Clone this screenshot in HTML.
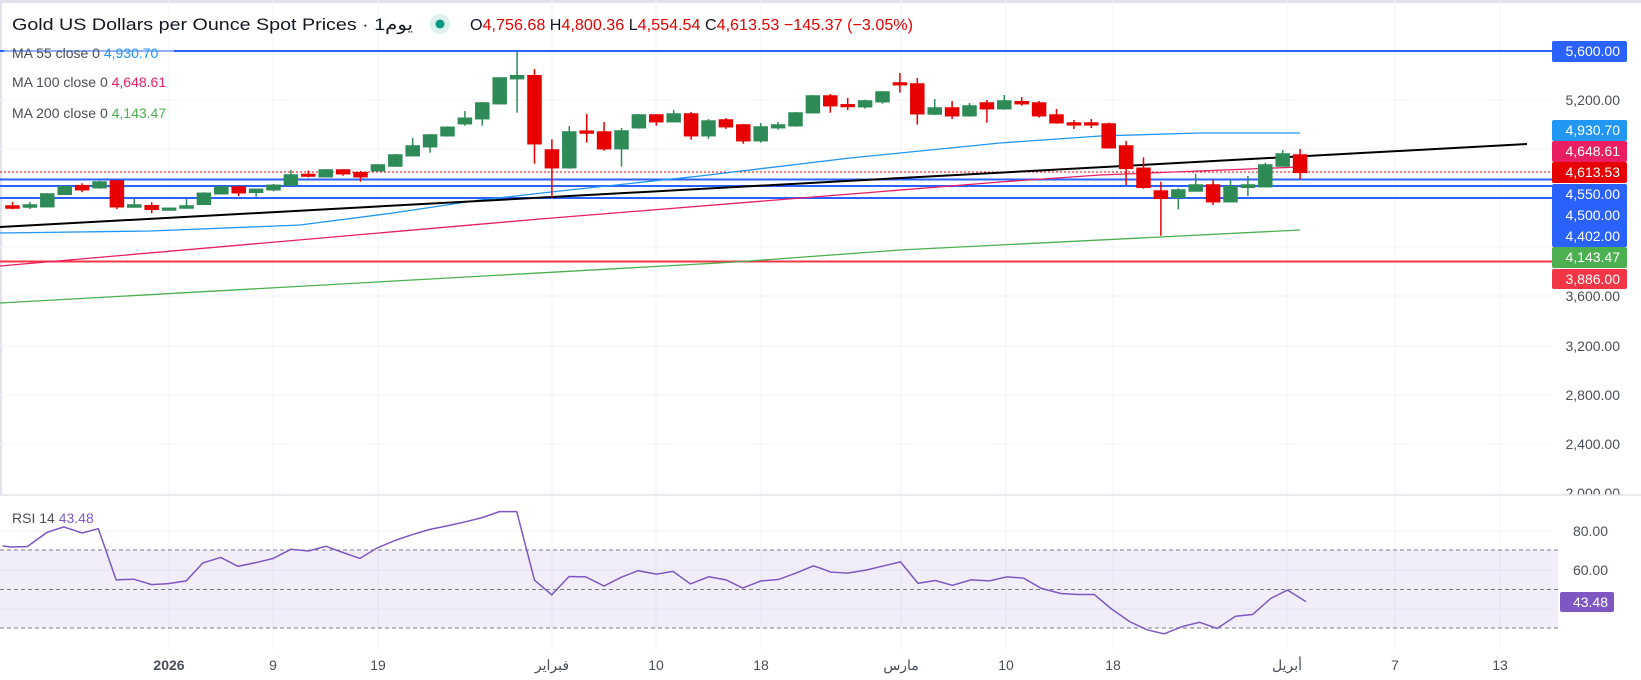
<!DOCTYPE html>
<html><head><meta charset="utf-8"><style>
html,body{margin:0;padding:0;background:#fff;}
svg{display:block;font-family:"Liberation Sans","Noto Sans CJK SC",sans-serif;}
.g{fill:#2e8b57;stroke:#2e8b57}
.r{fill:#e60000;stroke:#e60000}
.ax{font-size:14px;fill:#4a4e59;text-anchor:end}
.bx{font-size:14px;fill:#fff;text-anchor:end}
.dt{font-size:14px;fill:#4a4e59;text-anchor:middle}
</style></head><body>
<svg width="1641" height="680" viewBox="0 0 1641 680" xmlns="http://www.w3.org/2000/svg">
<rect width="1641" height="680" fill="#fff"/>
<rect x="0" y="0" width="1641" height="3" fill="#e0e3eb"/>
<rect x="0" y="0" width="2" height="680" fill="#e0e3eb"/>
<!-- grid -->
<g stroke="#f0f3fa" stroke-width="1">
<line x1="0" y1="100" x2="1552" y2="100"/><line x1="0" y1="149" x2="1552" y2="149"/>
<line x1="0" y1="198" x2="1552" y2="198"/><line x1="0" y1="247" x2="1552" y2="247"/>
<line x1="0" y1="296" x2="1552" y2="296"/><line x1="0" y1="346" x2="1552" y2="346"/>
<line x1="0" y1="395" x2="1552" y2="395"/><line x1="0" y1="444" x2="1552" y2="444"/>
<line x1="169" y1="0" x2="169" y2="650"/><line x1="273" y1="0" x2="273" y2="650"/><line x1="378" y1="0" x2="378" y2="650"/>
<line x1="552" y1="0" x2="552" y2="650"/><line x1="656" y1="0" x2="656" y2="650"/><line x1="761" y1="0" x2="761" y2="650"/>
<line x1="901" y1="0" x2="901" y2="650"/><line x1="1006" y1="0" x2="1006" y2="650"/><line x1="1113" y1="0" x2="1113" y2="650"/>
<line x1="1287" y1="0" x2="1287" y2="650"/><line x1="1395" y1="0" x2="1395" y2="650"/><line x1="1500" y1="0" x2="1500" y2="650"/>
</g>
<!-- horizontal levels -->
<line x1="0" y1="51" x2="1552" y2="51" stroke="#2962ff" stroke-width="2"/>
<line x1="0" y1="179.5" x2="1552" y2="179.5" stroke="#2962ff" stroke-width="2"/>
<line x1="0" y1="186" x2="1552" y2="186" stroke="#2962ff" stroke-width="2"/>
<line x1="0" y1="198" x2="1552" y2="198" stroke="#2962ff" stroke-width="2"/>
<line x1="0" y1="261.5" x2="1552" y2="261.5" stroke="#f23645" stroke-width="2"/>
<line x1="0" y1="172" x2="1552" y2="172" stroke="#e60000" stroke-width="1" stroke-dasharray="2,2"/>
<!-- MAs -->
<polyline fill="none" stroke="#2196f3" stroke-width="1.3" points="0,233 150,231 300,225 393,213 480,200 560,191 700,176 850,158 1000,143 1100,136 1200,133 1300,133"/>
<polyline fill="none" stroke="#e91e63" stroke-width="1.3" points="0,266 540,219 1000,182 1100,175 1300,167"/>
<polyline fill="none" stroke="#4caf50" stroke-width="1.3" points="0,303 736,262 900,250 1300,230"/>
<line x1="0" y1="227" x2="1527" y2="144" stroke="#000" stroke-width="2"/>
<!-- candles -->
<g stroke-width="1.5">
<line class="r" x1="12.5" x2="12.5" y1="202" y2="209.3"/><rect class="r" x="6" y="206" width="13" height="2"/>
<line class="g" x1="29.9" x2="29.9" y1="202" y2="209"/><rect class="g" x="23.4" y="205" width="13" height="2"/>
<line class="g" x1="47.3" x2="47.3" y1="193" y2="207"/><rect class="g" x="40.8" y="194" width="13" height="12.7"/>
<line class="g" x1="64.7" x2="64.7" y1="185.7" y2="195"/><rect class="g" x="58.2" y="186.7" width="13" height="7.6"/>
<line class="r" x1="82.1" x2="82.1" y1="183.3" y2="192.3"/><rect class="r" x="75.6" y="185.7" width="13" height="4"/>
<line class="g" x1="99.5" x2="99.5" y1="180.7" y2="188.7"/><rect class="g" x="93" y="182" width="13" height="5.7"/>
<line class="r" x1="116.9" x2="116.9" y1="180" y2="209"/><rect class="r" x="110.4" y="181" width="13" height="25.7"/>
<line class="g" x1="134.3" x2="134.3" y1="199" y2="207"/><rect class="g" x="127.8" y="205" width="13" height="2"/>
<line class="r" x1="151.7" x2="151.7" y1="202.3" y2="213.3"/><rect class="r" x="145.2" y="205.7" width="13" height="3.6"/>
<line class="g" x1="169.1" x2="169.1" y1="208" y2="210.5"/><rect class="g" x="162.6" y="208.3" width="13" height="1.7"/>
<line class="g" x1="186.5" x2="186.5" y1="199" y2="208.3"/><rect class="g" x="180" y="206" width="13" height="2"/>
<line class="g" x1="203.9" x2="203.9" y1="192.3" y2="205"/><rect class="g" x="197.4" y="193.3" width="13" height="11"/>
<line class="g" x1="221.3" x2="221.3" y1="186" y2="194.5"/><rect class="g" x="214.8" y="187" width="13" height="6.7"/>
<line class="r" x1="238.7" x2="238.7" y1="185.7" y2="196"/><rect class="r" x="232.2" y="187" width="13" height="5.7"/>
<line class="g" x1="256.1" x2="256.1" y1="189" y2="196.7"/><rect class="g" x="249.6" y="189.3" width="13" height="3"/>
<line class="g" x1="273.5" x2="273.5" y1="184" y2="191.3"/><rect class="g" x="267" y="185.3" width="13" height="4.4"/>
<line class="g" x1="290.9" x2="290.9" y1="170" y2="185"/><rect class="g" x="284.4" y="175" width="13" height="10"/>
<line class="r" x1="308.3" x2="308.3" y1="170.7" y2="177.3"/><rect class="r" x="301.8" y="174.5" width="13" height="1.5"/>
<line class="g" x1="325.7" x2="325.7" y1="169" y2="177"/><rect class="g" x="319.2" y="170" width="13" height="6.7"/>
<line class="r" x1="343.1" x2="343.1" y1="170" y2="175.7"/><rect class="r" x="336.6" y="170" width="13" height="3.7"/>
<line class="r" x1="360.5" x2="360.5" y1="171" y2="181.7"/><rect class="r" x="354" y="172.7" width="13" height="4"/>
<line class="g" x1="377.9" x2="377.9" y1="164" y2="171"/><rect class="g" x="371.4" y="165" width="13" height="5.7"/>
<line class="g" x1="395.3" x2="395.3" y1="154" y2="167"/><rect class="g" x="388.8" y="155" width="13" height="11"/>
<line class="g" x1="412.7" x2="412.7" y1="138" y2="156"/><rect class="g" x="406.2" y="146" width="13" height="9.7"/>
<line class="g" x1="430.1" x2="430.1" y1="134" y2="152.7"/><rect class="g" x="423.6" y="135" width="13" height="11.7"/>
<line class="g" x1="447.5" x2="447.5" y1="126.3" y2="136.7"/><rect class="g" x="441" y="127.3" width="13" height="8.4"/>
<line class="g" x1="464.9" x2="464.9" y1="111" y2="125.7"/><rect class="g" x="458.4" y="118.3" width="13" height="5.4"/>
<line class="g" x1="482.3" x2="482.3" y1="102" y2="125.7"/><rect class="g" x="475.8" y="103" width="13" height="15.7"/>
<line class="g" x1="499.7" x2="499.7" y1="77.3" y2="104"/><rect class="g" x="493.2" y="78" width="13" height="25.7"/>
<line class="g" x1="517.1" x2="517.1" y1="51.7" y2="112.7"/><rect class="g" x="510.6" y="75.7" width="13" height="3"/>
<line class="r" x1="534.5" x2="534.5" y1="69" y2="163.7"/><rect class="r" x="528" y="75.7" width="13" height="68"/>
<line class="r" x1="551.9" x2="551.9" y1="139.3" y2="197.7"/><rect class="r" x="545.4" y="150" width="13" height="17.7"/>
<line class="g" x1="569.3" x2="569.3" y1="126" y2="168.7"/><rect class="g" x="562.8" y="132" width="13" height="35.7"/>
<line class="r" x1="586.7" x2="586.7" y1="114" y2="142.7"/><rect class="r" x="580.2" y="131.2" width="13" height="1.8"/>
<line class="r" x1="604.1" x2="604.1" y1="122" y2="150.7"/><rect class="r" x="597.6" y="132" width="13" height="16.7"/>
<line class="g" x1="621.5" x2="621.5" y1="128" y2="166.7"/><rect class="g" x="615" y="131" width="13" height="17.7"/>
<line class="g" x1="638.9" x2="638.9" y1="114" y2="128.7"/><rect class="g" x="632.4" y="115" width="13" height="12.7"/>
<line class="r" x1="656.3" x2="656.3" y1="114" y2="125.7"/><rect class="r" x="649.8" y="115" width="13" height="6.7"/>
<line class="g" x1="673.7" x2="673.7" y1="110" y2="122"/><rect class="g" x="667.2" y="114" width="13" height="7.7"/>
<line class="r" x1="691.1" x2="691.1" y1="112" y2="139.7"/><rect class="r" x="684.6" y="114" width="13" height="21.7"/>
<line class="g" x1="708.5" x2="708.5" y1="119" y2="138.7"/><rect class="g" x="702" y="121" width="13" height="14.7"/>
<line class="r" x1="725.9" x2="725.9" y1="118" y2="129"/><rect class="r" x="719.4" y="120" width="13" height="6.7"/>
<line class="r" x1="743.3" x2="743.3" y1="124" y2="143.7"/><rect class="r" x="736.8" y="125" width="13" height="15.7"/>
<line class="g" x1="760.7" x2="760.7" y1="123" y2="142.7"/><rect class="g" x="754.2" y="127" width="13" height="13.7"/>
<line class="g" x1="778.1" x2="778.1" y1="122" y2="129.7"/><rect class="g" x="771.6" y="125" width="13" height="2.7"/>
<line class="g" x1="795.5" x2="795.5" y1="112" y2="126.7"/><rect class="g" x="789" y="113" width="13" height="12.7"/>
<line class="g" x1="812.9" x2="812.9" y1="95" y2="113"/><rect class="g" x="806.4" y="96" width="13" height="16.7"/>
<line class="r" x1="830.3" x2="830.3" y1="94" y2="112.7"/><rect class="r" x="823.8" y="96" width="13" height="9.7"/>
<line class="r" x1="847.7" x2="847.7" y1="98" y2="110"/><rect class="r" x="841.2" y="104.8" width="13" height="1.7"/>
<line class="g" x1="865.1" x2="865.1" y1="99.7" y2="108.7"/><rect class="g" x="858.6" y="101" width="13" height="5.7"/>
<line class="g" x1="882.5" x2="882.5" y1="91" y2="103.7"/><rect class="g" x="876" y="92" width="13" height="9.7"/>
<line class="r" x1="899.9" x2="899.9" y1="73" y2="92.7"/><rect class="r" x="893.4" y="83" width="13" height="1.7"/>
<line class="r" x1="917.3" x2="917.3" y1="78" y2="124.7"/><rect class="r" x="910.8" y="84" width="13" height="29.7"/>
<line class="g" x1="934.7" x2="934.7" y1="99" y2="115"/><rect class="g" x="928.2" y="108" width="13" height="6"/>
<line class="r" x1="952.1" x2="952.1" y1="101" y2="119"/><rect class="r" x="945.6" y="108" width="13" height="7.7"/>
<line class="g" x1="969.5" x2="969.5" y1="103" y2="116.7"/><rect class="g" x="963" y="106" width="13" height="9.7"/>
<line class="r" x1="986.9" x2="986.9" y1="100" y2="122.7"/><rect class="r" x="980.4" y="103" width="13" height="5.7"/>
<line class="g" x1="1004.3" x2="1004.3" y1="95" y2="109.7"/><rect class="g" x="997.8" y="101" width="13" height="7.7"/>
<line class="r" x1="1021.7" x2="1021.7" y1="97" y2="105.7"/><rect class="r" x="1015.2" y="101.7" width="13" height="2"/>
<line class="r" x1="1039.1" x2="1039.1" y1="101" y2="117.7"/><rect class="r" x="1032.6" y="103" width="13" height="12.7"/>
<line class="r" x1="1056.5" x2="1056.5" y1="109" y2="123.7"/><rect class="r" x="1050" y="115" width="13" height="7.7"/>
<line class="r" x1="1073.9" x2="1073.9" y1="120" y2="129"/><rect class="r" x="1067.4" y="123" width="13" height="1.8"/>
<line class="r" x1="1091.3" x2="1091.3" y1="119" y2="128"/><rect class="r" x="1084.8" y="123" width="13" height="1.8"/>
<line class="r" x1="1108.7" x2="1108.7" y1="122.7" y2="148.3"/><rect class="r" x="1102.2" y="124" width="13" height="23.7"/>
<line class="r" x1="1126.1" x2="1126.1" y1="141" y2="185"/><rect class="r" x="1119.6" y="146" width="13" height="22.3"/>
<line class="r" x1="1143.5" x2="1143.5" y1="157.3" y2="188.7"/><rect class="r" x="1137" y="168.3" width="13" height="19"/>
<line class="r" x1="1160.9" x2="1160.9" y1="181.7" y2="235.7"/><rect class="r" x="1154.4" y="191" width="13" height="7.3"/>
<line class="g" x1="1178.3" x2="1178.3" y1="188.3" y2="209.3"/><rect class="g" x="1171.8" y="190" width="13" height="7.3"/>
<line class="g" x1="1195.7" x2="1195.7" y1="174" y2="191"/><rect class="g" x="1189.2" y="185" width="13" height="6"/>
<line class="r" x1="1213.1" x2="1213.1" y1="180" y2="205"/><rect class="r" x="1206.6" y="185" width="13" height="16.7"/>
<line class="g" x1="1230.5" x2="1230.5" y1="180" y2="201.7"/><rect class="g" x="1224" y="186.7" width="13" height="15"/>
<line class="g" x1="1247.9" x2="1247.9" y1="176" y2="196"/><rect class="g" x="1241.4" y="185" width="13" height="2.3"/>
<line class="g" x1="1265.3" x2="1265.3" y1="162.7" y2="187.3"/><rect class="g" x="1258.8" y="165" width="13" height="21.7"/>
<line class="g" x1="1282.7" x2="1282.7" y1="150" y2="166"/><rect class="g" x="1276.2" y="154" width="13" height="12"/>
<line class="r" x1="1300.1" x2="1300.1" y1="149" y2="179.3"/><rect class="r" x="1293.6" y="155" width="13" height="17.3"/>
</g>
<!-- header -->
<rect x="4" y="42" width="170" height="20" fill="#fff" opacity="0.5"/>
<text x="12" y="30" font-size="17" fill="#131722" textLength="401" lengthAdjust="spacingAndGlyphs">Gold US Dollars per Ounce Spot Prices · 1يوم</text>
<circle cx="440" cy="24" r="10" fill="#dcf1ec"/><circle cx="440" cy="24" r="4.5" fill="#089981"/>
<text x="470" y="30" font-size="16" fill="#131722" textLength="443" lengthAdjust="spacingAndGlyphs">O<tspan fill="#e60000">4,756.68</tspan> H<tspan fill="#e60000">4,800.36</tspan> L<tspan fill="#e60000">4,554.54</tspan> C<tspan fill="#e60000">4,613.53</tspan> <tspan fill="#e60000">−145.37 (−3.05%)</tspan></text>
<text x="12" y="58" font-size="14" fill="#4a4e59">MA  55 close 0 <tspan fill="#2196f3">4,930.70</tspan></text>
<text x="12" y="87" font-size="14" fill="#4a4e59">MA  100 close 0 <tspan fill="#e91e63">4,648.61</tspan></text>
<text x="12" y="118" font-size="14" fill="#4a4e59">MA  200 close 0 <tspan fill="#4caf50">4,143.47</tspan></text>
<!-- price axis -->
<text class="ax" x="1620" y="105">5,200.00</text>
<text class="ax" x="1620" y="301">3,600.00</text>
<text class="ax" x="1620" y="351">3,200.00</text>
<text class="ax" x="1620" y="400">2,800.00</text>
<text class="ax" x="1620" y="449">2,400.00</text>
<text class="ax" x="1620" y="498">2,000.00</text>
<rect x="1552" y="41" width="75" height="21" rx="2" fill="#2962ff"/><text class="bx" x="1620" y="56">5,600.00</text>
<rect x="1552" y="120" width="75" height="21" rx="2" fill="#2196f3"/><text class="bx" x="1620" y="135">4,930.70</text>
<rect x="1552" y="141" width="75" height="21" rx="2" fill="#e91e63"/><text class="bx" x="1620" y="156">4,648.61</text>
<rect x="1552" y="162" width="75" height="21" rx="2" fill="#e60000"/><text class="bx" x="1620" y="177">4,613.53</text>
<rect x="1552" y="184" width="75" height="63" rx="2" fill="#2962ff"/>
<text class="bx" x="1620" y="199">4,550.00</text><text class="bx" x="1620" y="220">4,500.00</text><text class="bx" x="1620" y="241">4,402.00</text>
<rect x="1552" y="247" width="75" height="21" rx="2" fill="#4caf50"/><text class="bx" x="1620" y="262">4,143.47</text>
<rect x="1552" y="269" width="75" height="20" rx="2" fill="#f23645"/><text class="bx" x="1620" y="284">3,886.00</text>
<!-- RSI pane -->
<rect x="0" y="495" width="1641" height="185" fill="#fff"/>
<line x1="0" y1="495" x2="1641" y2="495" stroke="#e0e3eb" stroke-width="1.5"/>
<g stroke="#f0f3fa" stroke-width="1">
<line x1="0" y1="531" x2="1552" y2="531"/><line x1="0" y1="570" x2="1552" y2="570"/><line x1="0" y1="609" x2="1552" y2="609"/>
<line x1="169" y1="496" x2="169" y2="650"/><line x1="273" y1="496" x2="273" y2="650"/><line x1="378" y1="496" x2="378" y2="650"/>
<line x1="552" y1="496" x2="552" y2="650"/><line x1="656" y1="496" x2="656" y2="650"/><line x1="761" y1="496" x2="761" y2="650"/>
<line x1="901" y1="496" x2="901" y2="650"/><line x1="1006" y1="496" x2="1006" y2="650"/><line x1="1113" y1="496" x2="1113" y2="650"/>
<line x1="1287" y1="496" x2="1287" y2="650"/><line x1="1395" y1="496" x2="1395" y2="650"/><line x1="1500" y1="496" x2="1500" y2="650"/>
</g>
<rect x="0" y="550" width="1558" height="78" fill="#7e57c2" opacity="0.1"/>
<g stroke="#787b86" stroke-width="1" stroke-dasharray="4,3">
<line x1="0" y1="550" x2="1558" y2="550"/><line x1="0" y1="589.5" x2="1558" y2="589.5"/><line x1="0" y1="628" x2="1558" y2="628"/>
</g>
<g transform="translate(0,460) scale(0.523,0.3396)">
<polyline fill="none" stroke="#7e57c2" stroke-width="1.5" vector-effect="non-scaling-stroke" points="5,253 20,256 52,255 90,213 122,197 157,215 188,202 222,353 256,351 290,367 322,364 356,356 388,303 422,287 455,313 490,302 522,290 556,263 590,268 623,254 655,272 688,290 720,260 755,237 788,220 820,205 855,194 890,182 921,170 955,152 988,152 1022,354 1055,397 1088,343 1120,344 1155,371 1188,345 1220,326 1255,336 1287,328 1320,365 1355,344 1388,353 1420,377 1455,356 1488,352 1522,333 1555,312 1568,318"/>
</g>
<g transform="translate(820,460) scale(0.5294,0.3396)">
<polyline fill="none" stroke="#7e57c2" stroke-width="1.5" vector-effect="non-scaling-stroke" points="0,318 20,330 52,333 88,324 120,312 152,300 185,363 218,355 250,369 285,353 320,356 353,344 385,348 418,378 455,393 487,396 518,396 550,438 585,476 618,500 650,512 685,490 717,478 750,496 785,460 817,455 852,407 883,383 918,417"/>
</g>
<text x="12" y="523" font-size="14" fill="#4a4e59">RSI  14 <tspan fill="#7e57c2">43.48</tspan></text>
<text class="ax" x="1608" y="536">80.00</text>
<text class="ax" x="1608" y="575">60.00</text>
<rect x="1560" y="592" width="54" height="20" rx="2" fill="#7e57c2"/><text class="bx" x="1608" y="607">43.48</text>
<!-- dates -->
<text class="dt" x="169" y="670" font-weight="bold" fill="#131722">2026</text>
<text class="dt" x="273" y="670">9</text><text class="dt" x="378" y="670">19</text>
<text class="dt" x="552" y="670">فبراير</text><text class="dt" x="656" y="670">10</text><text class="dt" x="761" y="670">18</text>
<text class="dt" x="901" y="670">مارس</text><text class="dt" x="1006" y="670">10</text><text class="dt" x="1113" y="670">18</text>
<text class="dt" x="1287" y="670">أبريل</text><text class="dt" x="1395" y="670">7</text><text class="dt" x="1500" y="670">13</text>
</svg>
</body></html>
